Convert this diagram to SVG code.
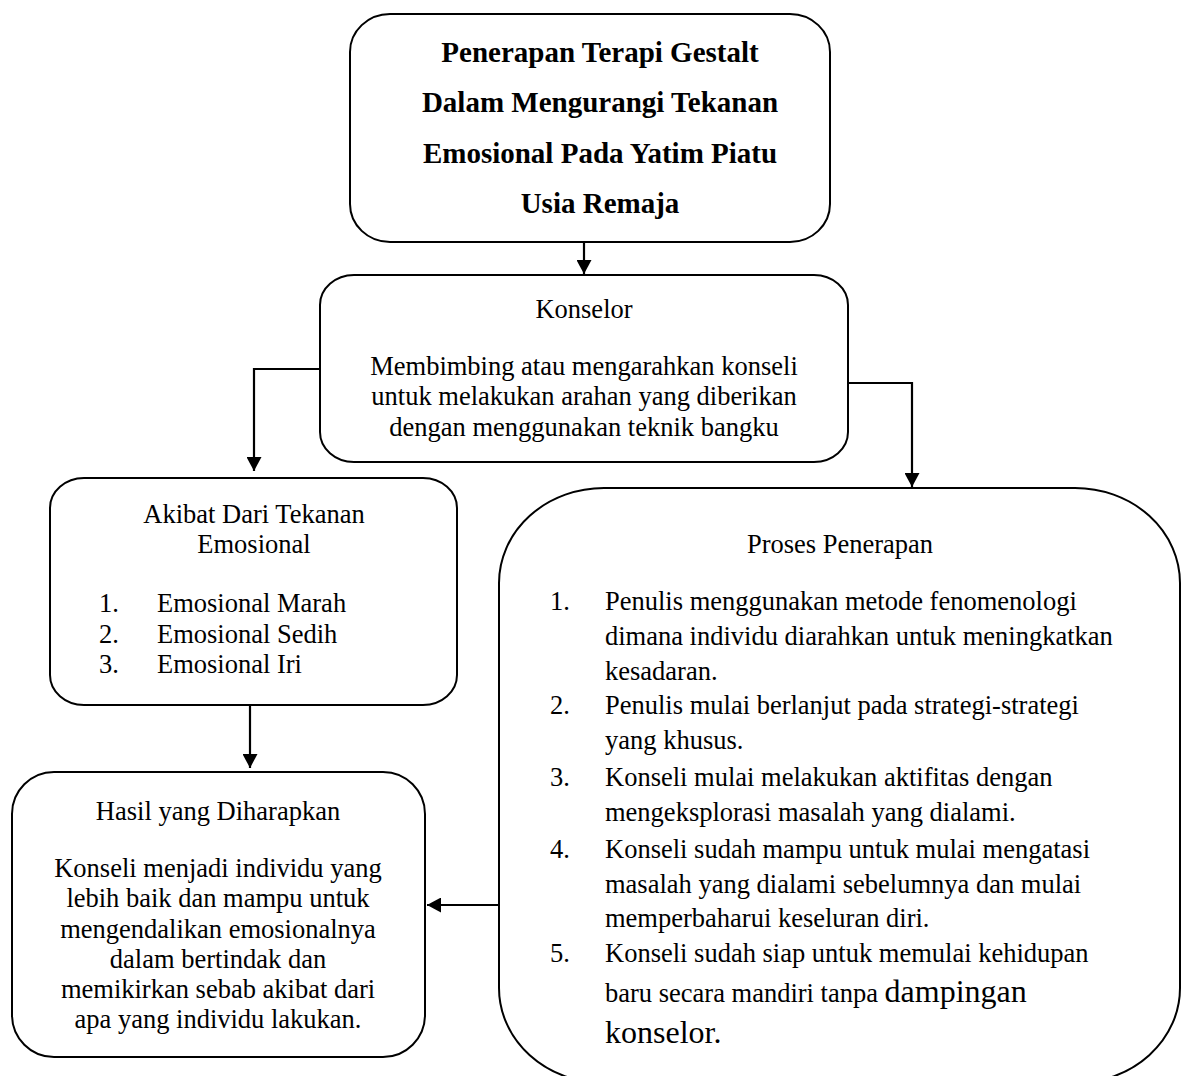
<svg xmlns="http://www.w3.org/2000/svg" width="1187" height="1076" viewBox="0 0 1187 1076">
<defs>
<style>
.box{fill:#fff;stroke:#000;stroke-width:2}
.t{font-family:"Liberation Serif","Times New Roman",serif;font-size:26.5px;fill:#000}
.c{text-anchor:middle}
.b{font-weight:bold;font-size:29px}
.ln{fill:none;stroke:#000;stroke-width:2.2}
</style>
<marker id="ah" viewBox="0 0 14 15" refX="14" refY="7.5" markerWidth="14" markerHeight="15" markerUnits="userSpaceOnUse" orient="auto">
<path d="M0,0 L14,7.5 L0,15 Z" fill="#000"/>
</marker>
</defs>
<rect width="1187" height="1076" fill="#fff"/>
<g id="connectors">
<line class="ln" x1="584" y1="242" x2="584" y2="274" marker-end="url(#ah)"/>
<polyline class="ln" points="320,369 254,369 254,471" marker-end="url(#ah)"/>
<polyline class="ln" points="848,383 912,383 912,487" marker-end="url(#ah)"/>
<line class="ln" x1="250" y1="705" x2="250" y2="768" marker-end="url(#ah)"/>
<line class="ln" x1="498" y1="905" x2="427" y2="905" marker-end="url(#ah)"/>
</g>
<g id="judul">
<rect class="box" x="350" y="14" width="480" height="228" rx="40" ry="38"/>
<text class="t c b" x="600" y="62">Penerapan Terapi Gestalt</text>
<text class="t c b" x="600" y="112">Dalam Mengurangi Tekanan</text>
<text class="t c b" x="600" y="163">Emosional Pada Yatim Piatu</text>
<text class="t c b" x="600" y="213">Usia Remaja</text>
</g>
<g id="konselor">
<rect class="box" x="320" y="275" width="528" height="187" rx="34" ry="30"/>
<text class="t c" x="584" y="318">Konselor</text>
<text class="t c" x="584" y="375">Membimbing atau mengarahkan konseli</text>
<text class="t c" x="584" y="405">untuk melakukan arahan yang diberikan</text>
<text class="t c" x="584" y="436">dengan menggunakan teknik bangku</text>
</g>
<g id="akibat">
<rect class="box" x="50" y="478" width="407" height="227" rx="34" ry="30"/>
<text class="t c" x="254" y="523">Akibat Dari Tekanan</text>
<text class="t c" x="254" y="553">Emosional</text>
<text class="t" x="99" y="612">1.</text>
<text class="t" x="157" y="612">Emosional Marah</text>
<text class="t" x="99" y="643">2.</text>
<text class="t" x="157" y="643">Emosional Sedih</text>
<text class="t" x="99" y="673">3.</text>
<text class="t" x="157" y="673">Emosional Iri</text>
</g>
<g id="hasil">
<rect class="box" x="12" y="772" width="413" height="285" rx="42" ry="42"/>
<text class="t c" x="218" y="820">Hasil yang Diharapkan</text>
<text class="t c" x="218" y="877">Konseli menjadi individu yang</text>
<text class="t c" x="218" y="907">lebih baik dan mampu untuk</text>
<text class="t c" x="218" y="938">mengendalikan emosionalnya</text>
<text class="t c" x="218" y="968">dalam bertindak dan</text>
<text class="t c" x="218" y="998">memikirkan sebab akibat dari</text>
<text class="t c" x="218" y="1028">apa yang individu lakukan.</text>
</g>
<g id="proses">
<rect class="box" x="499" y="488" width="681" height="595" rx="105" ry="95"/>
<text class="t c" x="840" y="553">Proses Penerapan</text>
<text class="t" x="550" y="610">1.</text>
<text class="t" x="605" y="610">Penulis menggunakan metode fenomenologi</text>
<text class="t" x="605" y="645">dimana individu diarahkan untuk meningkatkan</text>
<text class="t" x="605" y="680">kesadaran.</text>
<text class="t" x="550" y="714">2.</text>
<text class="t" x="605" y="714">Penulis mulai berlanjut pada strategi-strategi</text>
<text class="t" x="605" y="749">yang khusus.</text>
<text class="t" x="550" y="786">3.</text>
<text class="t" x="605" y="786">Konseli mulai melakukan aktifitas dengan</text>
<text class="t" x="605" y="821">mengeksplorasi masalah yang dialami.</text>
<text class="t" x="550" y="858">4.</text>
<text class="t" x="605" y="858">Konseli sudah mampu untuk mulai mengatasi</text>
<text class="t" x="605" y="893">masalah yang dialami sebelumnya dan mulai</text>
<text class="t" x="605" y="927">memperbaharui keseluran diri.</text>
<text class="t" x="550" y="962">5.</text>
<text class="t" x="605" y="962">Konseli sudah siap untuk memulai kehidupan</text>
<text class="t" x="605" y="1002">baru secara mandiri tanpa <tspan style="font-size:32px">dampingan</tspan></text>
<text class="t" x="605" y="1043" style="font-size:32px">konselor.</text>
</g>
</svg>
